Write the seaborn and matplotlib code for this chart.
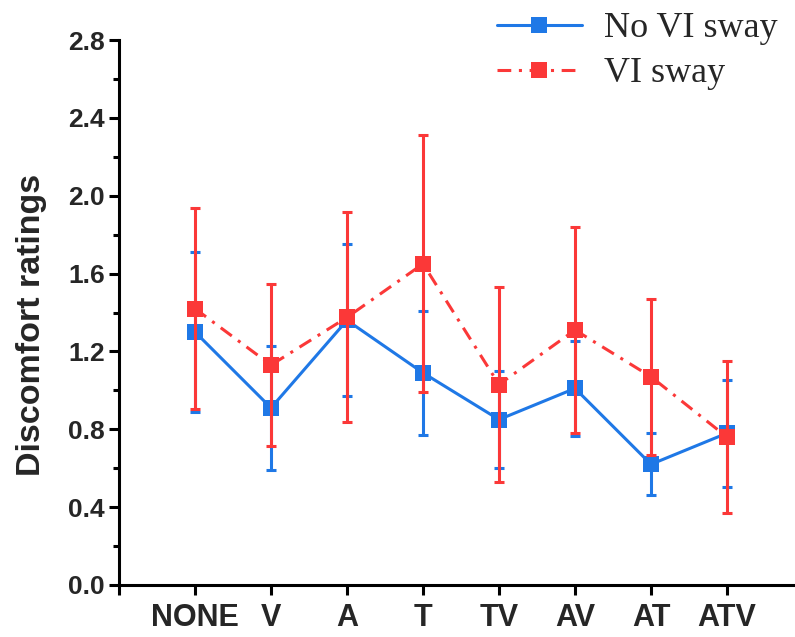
import numpy as np
import pandas as pd
import matplotlib
matplotlib.use('Agg')
import matplotlib.pyplot as plt
import seaborn as sns
from matplotlib.ticker import MultipleLocator

conditions = ['NONE', 'V', 'A', 'T', 'TV', 'AV', 'AT', 'ATV']

no_vi_mean = [1.30, 0.91, 1.36, 1.09, 0.85, 1.01, 0.62, 0.78]
no_vi_err = [0.41, 0.32, 0.39, 0.32, 0.25, 0.245, 0.16, 0.275]

vi_mean = [1.42, 1.13, 1.375, 1.65, 1.03, 1.31, 1.07, 0.76]
vi_err = [0.515, 0.415, 0.54, 0.66, 0.50, 0.53, 0.40, 0.39]

blue = '#1f78e6'
red = '#fb3838'

sns.set_style('ticks')
plt.rcParams['font.family'] = ['Liberation Sans', 'DejaVu Sans']

df = pd.DataFrame({
    'pos': np.arange(len(conditions)),
    'No VI sway': no_vi_mean,
    'VI sway': vi_mean,
})

fig = plt.figure(figsize=(7.95, 6.37), dpi=100)
ax = fig.add_axes([119 / 795, 52 / 637, (803 - 119) / 795, (585 - 40) / 637])

# blue series first, red on top
ax.errorbar(df['pos'], no_vi_mean, yerr=no_vi_err, fmt='none', ecolor=blue,
            elinewidth=2.2, capsize=3.6, capthick=2.2, zorder=2)
sns.lineplot(data=df, x='pos', y='No VI sway', ax=ax, color=blue, lw=2.2,
             marker='s', markersize=11.5, markeredgewidth=0, label='No VI sway',
             zorder=3)
ax.errorbar(df['pos'], vi_mean, yerr=vi_err, fmt='none', ecolor=red,
            elinewidth=2.2, capsize=3.6, capthick=2.2, zorder=4)
sns.lineplot(data=df, x='pos', y='VI sway', ax=ax, color=red, lw=2.2,
             linestyle=(0, (4.5, 2.5, 1, 2.5)), marker='s', markersize=11.5,
             markeredgewidth=0, label='VI sway', zorder=5)

ax.set_xlim(-1, 8)
ax.set_ylim(0, 2.8)
ax.set_xticks(np.arange(-1, len(conditions)))
ax.set_xticklabels([''] + conditions, fontsize=22, fontweight='bold')
ax.yaxis.set_minor_locator(MultipleLocator(0.2))
ax.set_yticks(np.arange(0, 2.81, 0.4))
ax.set_yticklabels([f'{v:.1f}' for v in np.arange(0, 2.81, 0.4)],
                   fontsize=19, fontweight='bold')
ax.tick_params(axis='both', which='major', direction='out', length=7,
               width=2.2, color='black', pad=3)
ax.tick_params(axis='x', which='major', pad=6)
ax.tick_params(axis='y', which='minor', direction='out', length=4, width=2.2,
               color='black')
ax.set_xlabel('')
ax.set_ylabel('Discomfort ratings', fontsize=24.5, fontweight='bold')
ax.yaxis.set_label_coords(-0.105, 0.477)

for side in ['top', 'right']:
    ax.spines[side].set_visible(False)
for side in ['left', 'bottom']:
    ax.spines[side].set_linewidth(2.2)
    ax.spines[side].set_color('black')

handles, labels = ax.get_legend_handles_labels()
ax.legend_.remove()
fig.legend(handles, labels, loc='upper left',
           bbox_to_anchor=(497 / 795, 1 - 12 / 637),
           frameon=False, prop={'family': 'Liberation Serif', 'size': 26},
           handlelength=2.35, handletextpad=0.6, labelspacing=0.33,
           borderpad=0.0, borderaxespad=0.0)

fig.savefig('out.png', dpi=100)
